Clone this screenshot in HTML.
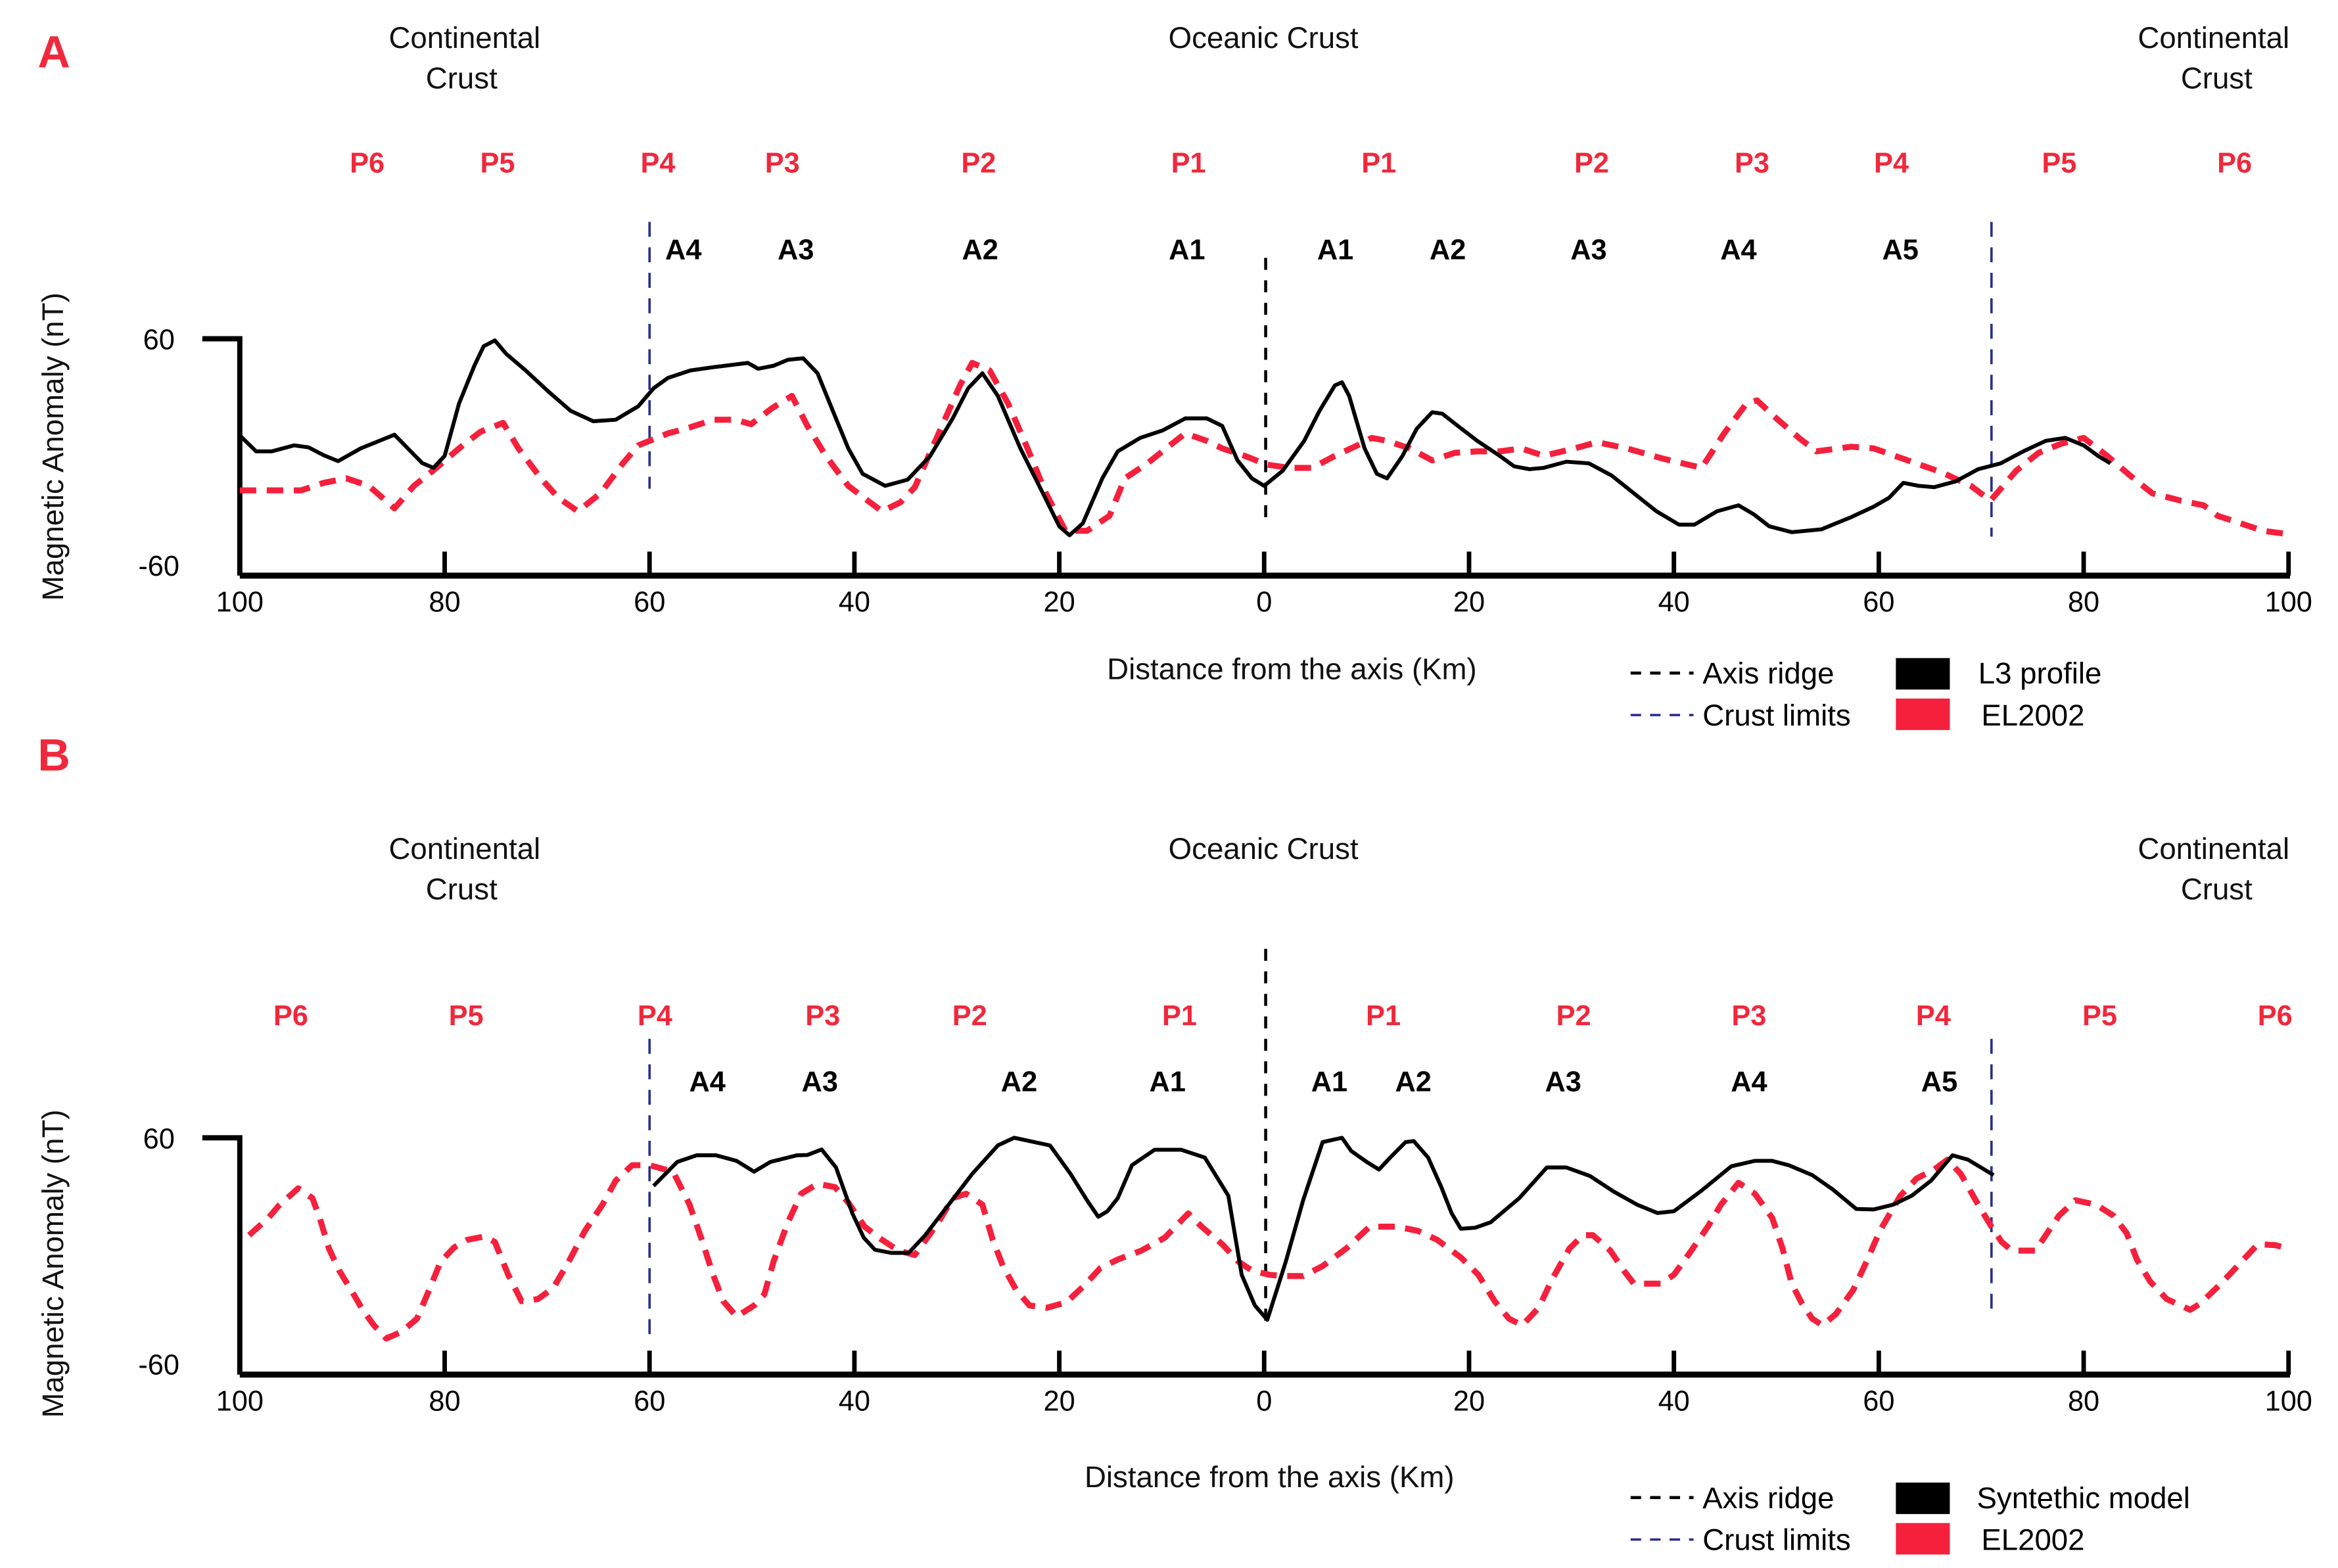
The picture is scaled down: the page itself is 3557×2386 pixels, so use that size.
<!DOCTYPE html>
<html><head><meta charset="utf-8"><style>
html,body{margin:0;padding:0;background:#fff;}
svg{display:block;font-family:"Liberation Sans",sans-serif;}
.t{font-size:20px;fill:#111;text-anchor:middle;}
.p{font-size:19px;fill:#f0283c;font-weight:bold;text-anchor:middle;}
.a{font-size:19px;fill:#000;font-weight:bold;text-anchor:middle;}
.tk{font-size:19px;fill:#000;text-anchor:middle;}
</style></head><body>
<svg id="fig" width="3557" height="2386" viewBox="0 0 1560 1046" preserveAspectRatio="none" xmlns="http://www.w3.org/2000/svg">
<rect width="1560" height="1046" fill="#fff"/>
</svg>
<script>
// ---- data (km from axis, left side negative; nT) ----
const xTicks = [-100,-80,-60,-40,-20,0,20,40,60,80,100];
const xTickLabels = ["100","80","60","40","20","0","20","40","60","80","100"];
const yTickValues = [60,-60];
const yTickLabels = ["60","-60"];
const crustLimitsA = [-60, 71];
const crustLimitsB = [-60, 71];

const l3Km = [-100,-98.4,-96.9,-94.7,-93.3,-91.8,-90.4,-88.2,-86.7,-84.9,-83.6,-82.2,-81.1,-80,-78.6,-77.1,-76.2,-75.1,-74,-72.1,-69.9,-67.7,-65.5,-63.3,-61.1,-59.6,-58.2,-56,-53.8,-51.6,-50.4,-49.4,-47.9,-46.5,-45,-43.6,-42.1,-40.6,-39.2,-37,-34.8,-32.6,-30.4,-28.9,-27.5,-26,-23.8,-21.6,-20,-19,-17.7,-15.8,-14.3,-12.1,-9.9,-7.7,-5.6,-4.1,-2.6,-1.2,0,1.8,3.9,5.4,6.9,7.6,8.3,9.8,11,12,13.5,14.9,16.4,17.4,18.9,20.8,23,24.4,25.9,27.3,29.5,31.7,33.9,36.1,38.3,40.5,42,44.2,46.3,47.8,49.3,51.5,54.4,57.3,59.5,61,62.4,63.9,65.4,67.5,69.7,71.9,74.1,76.3,78.2,80,81.4,82.6];
const l3nT = [11,3,3,6,5,1,-2,4.5,7.6,11.4,4.5,-3,-5.4,0.7,27.3,46.3,56.2,59.2,52.4,44,33.4,23.5,18.2,19,25.8,34.9,40.2,44,45.6,47,47.8,44.8,46.3,49.4,50.1,42.5,23.5,4.5,-8.4,-14.5,-11.4,0.7,19.7,34.9,42.5,31.1,4.5,-18.3,-35,-39.6,-33.5,-10.7,3,9.8,13.6,19.7,19.7,15.9,-1.6,-10.7,-14.5,-6.9,8.3,23.5,36.4,38,31.1,4.5,-8.4,-10.7,0.7,14.4,22.8,22,15.9,8.3,0.7,-4.6,-6.1,-5.4,-2.3,-3.1,-9.2,-18.3,-27.4,-34.2,-34.2,-27.4,-24.4,-28.9,-35,-38,-36.5,-30.4,-25.1,-20.6,-13,-14.5,-15.2,-12.2,-6.1,-3.1,3,8.3,9.8,6,0.7,-3.1];

const elAKm = [-100,-96.9,-94,-91.8,-89.6,-87.4,-84.9,-83,-80.8,-78.6,-76.5,-74.3,-72.8,-70.6,-68.9,-67,-64.8,-62.6,-61.1,-58.2,-56,-53.8,-51.6,-50.1,-48,-46.1,-44.6,-42.8,-40.6,-38.7,-37.3,-35.5,-34.1,-31.9,-29.7,-28.5,-26.8,-25,-23.1,-21.3,-19.4,-17.3,-15.1,-13.6,-11.4,-9.2,-7.7,-5.6,-4.1,-1.9,0.3,2.5,4.7,6.9,9.1,10.5,12,14.2,16.4,18.6,20.8,23,25.1,27.3,30.3,32.5,35.4,39,42.7,44.9,47.1,48.1,50,52.2,53.9,57.3,59.5,62.4,66.1,69,70.9,73.4,75.6,77.8,80,82.3,84.5,86.7,89.5,91.7,93.1,95.3,97.5,99.7];
const elAnT = [-16.8,-16.8,-16.8,-13,-10.7,-14.5,-25.9,-14.5,-5.4,4.5,12.9,17.4,4.5,-10.7,-20.6,-27.4,-18.3,-3.1,6,12.1,15.2,19,19,16.7,25,31.1,15.9,0.7,-14.5,-22,-27.4,-22.8,-15.2,10.6,36.4,47.8,44,27.3,4.5,-18.3,-37.3,-37.3,-29.7,-10.7,-3.1,6,12.1,8.3,4.5,0.7,-3.8,-5.4,-5.4,0.7,6,9.8,8.3,4.5,-1.6,2.2,3,3,4.5,0.7,4.5,7.6,4.5,-0.8,-5.4,12.1,27.3,28.8,19.7,9.8,3,5.3,4.5,-0.8,-7.6,-14.5,-22,-6.9,2.2,6.8,9.8,0.7,-9.2,-18.3,-22,-24.4,-29.7,-33.5,-37.3,-38.8];

const synKm = [-59.6,-57.3,-55.4,-53.5,-51.5,-49.8,-48.2,-45.6,-44.6,-43.2,-41.8,-40.2,-39.1,-38,-36.4,-34.7,-33.1,-30.8,-28.5,-26,-24.4,-20.9,-18.9,-17.3,-16.2,-15.3,-14.3,-12.9,-10.7,-8.1,-5.8,-3.5,-2.2,-0.9,0.3,2.1,3.8,5.7,7.6,8.5,10,11.2,12.3,13.8,14.6,16,17.3,18.3,19.2,20.6,22.1,24.9,27.6,29.5,31.8,34.1,36.4,38.4,40,42.7,45.6,47.9,49.6,51.2,53.5,55.5,57.8,59.5,61.4,63.2,65.1,67.2,68.7,71.2];
const synnT = [35.6,47.8,51.1,51.1,48.3,42.8,47.8,51.1,51.3,54.1,45,21.7,9.4,3.3,1.7,1.7,10.6,26.1,41.7,56.1,60,56.1,41.7,28.3,20,22.8,29.4,46.1,53.9,53.9,50,30.6,-9.4,-25,-32.2,-2.8,28.3,57.8,60,53.3,47.8,43.9,50,57.8,58.3,50,35,21.7,13.9,14.4,17.2,29.4,45,45,40.6,32.8,26.1,21.9,22.8,33.3,45.6,48.3,48.3,46.1,41.1,33.9,23.9,23.7,26.1,30.6,38.3,51.1,48.9,41.1];

const elBKm = [-99.1,-97.2,-96.2,-94.3,-92.9,-92.2,-91.3,-90.3,-89,-88,-86.9,-85.7,-84.2,-82.7,-81.7,-80.4,-79.1,-77.8,-76.1,-75.1,-73.8,-72.5,-70.9,-69.4,-67.9,-66.3,-64.6,-63.3,-61.7,-60,-57.7,-56.1,-54.9,-53.8,-52.8,-51.5,-49.8,-48.8,-47.9,-46.5,-45.2,-43.6,-41.9,-40.6,-39,-37.3,-35.7,-34.1,-32.7,-31.8,-30.4,-29.1,-27.5,-26.5,-25.5,-24.2,-22.9,-21.2,-19.3,-17.6,-16,-14.3,-12,-9.7,-7.4,-6.1,-4.1,-2.5,-1.2,0.5,1.8,3.8,5.7,8,10.3,13,15,16.9,19.2,20.9,22.5,23.9,25.2,26.8,28.1,29.8,31.1,32.1,33.8,35.1,36.1,38.7,40,41.7,43.3,44.6,46.3,47.9,49.6,50.6,51.5,52.5,53.5,54.5,55.8,57.5,58.8,60.1,61.1,62.1,63.7,65.4,66.7,68,69.7,71,72,73,75.3,76.3,77.6,79.2,81.2,82.9,84.2,85.2,86.5,88.1,90.4,91.4,93.4,95.4,97,98.7,100];
const elBnT = [10.6,19.4,25.6,34.4,29.4,19.4,3.9,-7.2,-18.3,-27.2,-35,-41.7,-38.3,-31.7,-19.4,-2.8,4.4,8.3,10,7.2,-9.4,-22.8,-21.7,-16.1,-2.8,12.8,26.1,38.3,46.1,46.1,42.8,26.1,8.3,-9.4,-22.8,-30.6,-25,-19.4,-2.8,17.2,31.7,36.7,35,27.2,15,8.3,2.8,0.6,10.6,17.2,29.4,31.7,26.1,8.3,-5,-17.2,-25,-26.1,-23.3,-15,-6.1,-1.7,2.8,9.4,21.7,15,6.1,-2.8,-7.2,-9.4,-10,-10,-5,3.9,15,15,12.8,8.3,-0.6,-9.4,-22.8,-31.7,-35,-26.1,-11.7,3.9,10.6,10.6,2.8,-7.2,-13.9,-13.9,-9.4,2.8,15,26.1,37.2,31.7,19.4,3.9,-13.9,-23.9,-31.7,-35,-29.4,-17.2,-2.8,12.8,21.7,30.6,39.4,43.9,48.9,41.7,26.1,15,7.2,2.8,2.8,10.6,20.6,28.3,26.1,20.6,11.7,-1.7,-12.8,-21.7,-27.2,-23.9,-13.9,-2.8,6.1,5.6,3.9];

// ---- drawing ----
const NS = "http://www.w3.org/2000/svg";
const svg = document.getElementById('fig');
const X0 = 160, X1 = 1527;
function xScale(km){ return X0 + (km + 100) * (X1 - X0) / 200; }
function makeY(top, bot){ return v => top + (60 - v) * (bot - top) / 120; }
function el(tag, attrs, parent){
  const e = document.createElementNS(NS, tag);
  for (const k in attrs) e.setAttribute(k, attrs[k]);
  (parent || svg).appendChild(e);
  return e;
}
function txt(x, y, s, cls, name, parent){
  const t = el('text', {x:x, y:y, class:cls}, parent);
  t.textContent = s;
  
  
  return t;
}

function panel(cfg){
  const g = el('g', {});
  
  
  const y = makeY(cfg.top, cfg.bot);
  const o = cfg.off;
  txt(36, cfg.letterY, cfg.letter, '', 'panel-letter', g).setAttribute('style', 'font-size:30px;font-weight:bold;fill:#f0283c;text-anchor:middle');
  txt(310, 32 + o, 'Continental', 't', 'continental-crust-left-label', g);
  txt(308, 59 + o, 'Crust', 't', 'continental-crust-left-label-2', g);
  txt(843, 32 + o, 'Oceanic Crust', 't', 'oceanic-crust-label', g);
  txt(1477, 32 + o, 'Continental', 't', 'continental-crust-right-label', g);
  txt(1479, 59 + o, 'Crust', 't', 'continental-crust-right-label-2', g);
  cfg.pLabels.forEach((p) => txt(p[0], cfg.pY, p[1], 'p', 'polarity-label', g));
  cfg.aLabels.forEach((p) => txt(p[0], cfg.aY, p[1], 'a', 'anomaly-label', g));
  const ax = el('line', {x1:xScale(0)+1, x2:xScale(0)+1, y1:cfg.axisTop, y2:cfg.axisBot, stroke:'#000', 'stroke-width':2, 'stroke-dasharray':'8,7'}, g);
  
  
  cfg.limits.forEach((k, i) => {
    const l = el('line', {x1:xScale(k), x2:xScale(k), y1:cfg.limTop, y2:cfg.limBot[i], stroke:'#2b2f8f', 'stroke-width':1.6, 'stroke-dasharray':'10,7'}, g);
    
    
  });
  const yax = el('path', {d:`M135 ${cfg.top} H${X0} V${cfg.bot}`, fill:'none', stroke:'#000', 'stroke-width':3.5}, g);
  
  
  const xax = el('line', {x1:X0, x2:X1+1, y1:cfg.bot, y2:cfg.bot, stroke:'#000', 'stroke-width':4}, g);
  
  
  xTicks.forEach((k, i) => {
    if (i > 0) {
      const tk = el('line', {x1:xScale(k), x2:xScale(k), y1:cfg.bot-16, y2:cfg.bot, stroke:'#000', 'stroke-width':3}, g);
      
      
    }
    txt(xScale(k), cfg.bot + 24, xTickLabels[i], 'tk', 'x-tick-label', g);
  });
  yTickValues.forEach((v, i) => {
    const yy = v > 0 ? y(v) + 7 : y(v) - 0;
    txt(106, yy, yTickLabels[i], 'tk', 'y-tick-label', g);
  });
  const yt = txt(0, 0, 'Magnetic Anomaly (nT)', 't', 'y-axis-title', g);
  yt.setAttribute('transform', `translate(42 ${cfg.ytY}) rotate(-90)`);
  txt(cfg.xtX, cfg.xtY, 'Distance from the axis (Km)', 't', 'x-axis-title', g);
  function line(kms, vals, attrs, name){
    let d = '';
    kms.forEach((k, i) => { d += (i ? 'L' : 'M') + xScale(k).toFixed(1) + ' ' + y(vals[i]).toFixed(1); });
    const p = el('path', Object.assign({d:d, fill:'none', 'stroke-linejoin':'round'}, attrs), g);
    
    
  }
  line(cfg.redKm, cfg.redV, {stroke:'#f5203c', 'stroke-width':4, 'stroke-dasharray':'11,7'}, 'el2002-series');
  line(cfg.blkKm, cfg.blkV, {stroke:'#000', 'stroke-width':2.6}, cfg.blkName);
  const L = cfg.legY;
  const lg = el('g', {}, g);
  
  
  el('line', {x1:1088, x2:1130, y1:L, y2:L, stroke:'#000', 'stroke-width':2, 'stroke-dasharray':'7,6'}, lg);
  txt(1136, L+7, 'Axis ridge', '', 'legend-axis-ridge', lg).setAttribute('style', 'font-size:20px');
  el('line', {x1:1088, x2:1130, y1:L+28, y2:L+28, stroke:'#2b2f8f', 'stroke-width':1.6, 'stroke-dasharray':'7,6'}, lg);
  txt(1136, L+35, 'Crust limits', '', 'legend-crust-limits', lg).setAttribute('style', 'font-size:20px');
  el('rect', {x:1265, y:L-10, width:36, height:21, fill:'#000'}, lg);
  txt(cfg.blkLegX, L+7, cfg.blkLegend, '', 'legend-black-series', lg).setAttribute('style', 'font-size:20px');
  el('rect', {x:1265, y:L+17, width:36, height:21, fill:'#f5203c'}, lg);
  txt(cfg.redLegX, L+35, 'EL2002', '', 'legend-el2002', lg).setAttribute('style', 'font-size:20px');
}

panel({name:'panel-a', letter:'A', letterY:45, off:0, top:226, bot:384,
  pY:115, aY:173,
  pLabels:[[245,'P6'],[332,'P5'],[439,'P4'],[522,'P3'],[653,'P2'],[793,'P1'],[920,'P1'],[1062,'P2'],[1169,'P3'],[1262,'P4'],[1374,'P5'],[1491,'P6']],
  aLabels:[[456,'A4'],[531,'A3'],[654,'A2'],[792,'A1'],[891,'A1'],[966,'A2'],[1060,'A3'],[1160,'A4'],[1268,'A5']],
  axisTop:172, axisBot:352, limits:crustLimitsA, limTop:148, limBot:[326,358],
  ytY:298, xtX:862, xtY:453, legY:449,
  redKm:elAKm, redV:elAnT, blkKm:l3Km, blkV:l3nT, blkName:'l3-profile-series',
  blkLegend:'L3 profile', blkLegX:1320, redLegX:1322});
panel({name:'panel-b', letter:'B', letterY:514, off:541, top:759, bot:917,
  pY:684, aY:728,
  pLabels:[[194,'P6'],[311,'P5'],[437,'P4'],[549,'P3'],[647,'P2'],[787,'P1'],[923,'P1'],[1050,'P2'],[1167,'P3'],[1290,'P4'],[1401,'P5'],[1518,'P6']],
  aLabels:[[472,'A4'],[547,'A3'],[680,'A2'],[779,'A1'],[887,'A1'],[943,'A2'],[1043,'A3'],[1167,'A4'],[1294,'A5']],
  axisTop:633, axisBot:882, limits:crustLimitsB, limTop:693, limBot:[890,873],
  ytY:843, xtX:847, xtY:992, legY:999,
  redKm:elBKm, redV:elBnT, blkKm:synKm, blkV:synnT, blkName:'synthetic-model-series',
  blkLegend:'Syntethic model', blkLegX:1319, redLegX:1322});
</script>
</body></html>
